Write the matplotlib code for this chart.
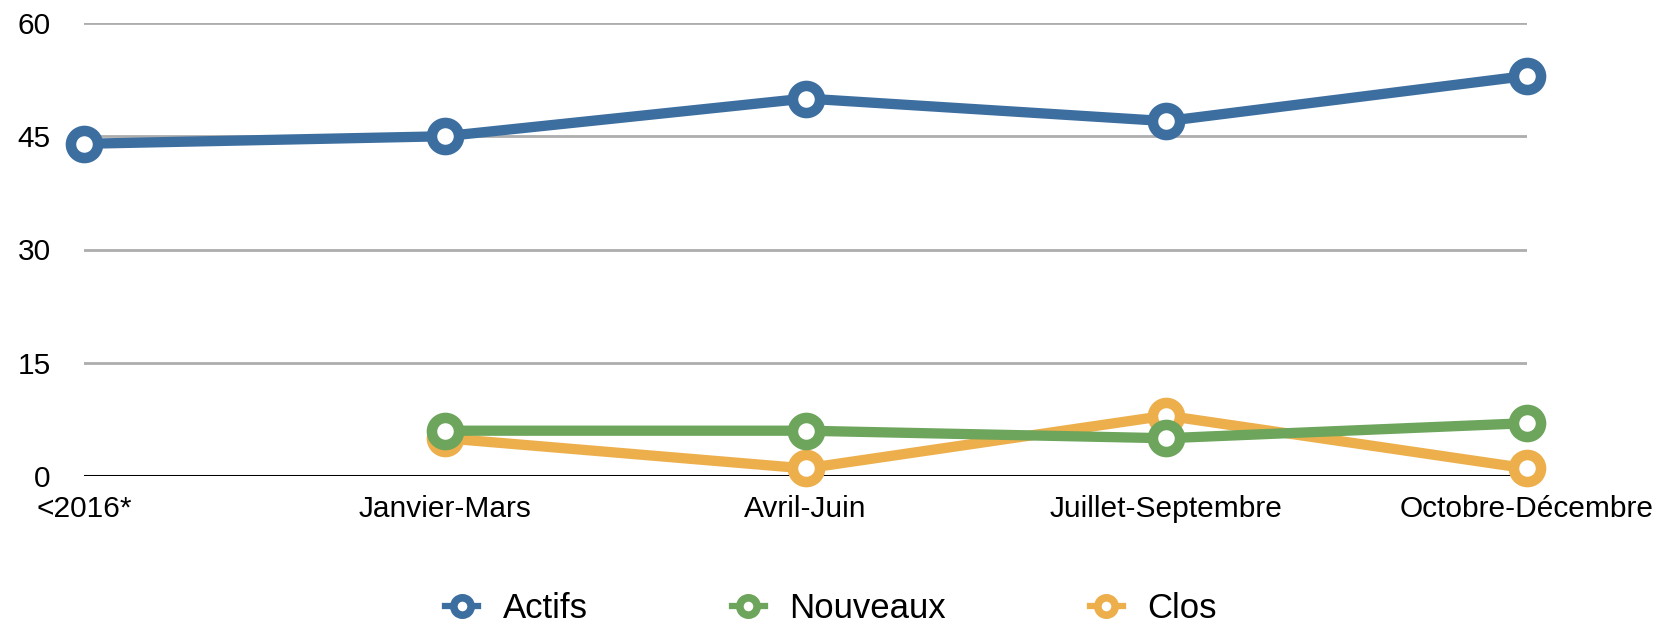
import matplotlib
matplotlib.use("Agg")
import matplotlib.pyplot as plt
from matplotlib.lines import Line2D
import numpy as np

plt.rcParams['font.family'] = ['Liberation Sans', 'DejaVu Sans']

categories = ["<2016*", "Janvier-Mars", "Avril-Juin", "Juillet-Septembre", "Octobre-Décembre"]
actifs = [44, 45, 50, 47, 53]
nouveaux = [np.nan, 6, 6, 5, 7]
clos = [np.nan, 5, 1, 8, 1]
yticks = [0, 15, 30, 45, 60]

c_blue = "#3D6EA0"
c_green = "#6CA55B"
c_orange = "#EDAF4C"

fig = plt.figure(figsize=(16.62, 6.24), dpi=100)
ax = fig.add_axes([84/1662, 1-476/624, (1527-84)/1662, (476-23)/624])

x = np.arange(len(categories))
ms = 19.5
mew = 7.6
lw = 7.4
for vals, col, z in [(actifs, c_blue, 5), (clos, c_orange, 3), (nouveaux, c_green, 4)]:
    ax.plot(x, vals, color=col, lw=lw, marker='o', ms=ms, mew=mew,
            markerfacecolor='white', markeredgecolor=col, zorder=z, clip_on=False,
            solid_joinstyle='round')

ax.set_xlim(0, len(categories)-1)
ax.set_ylim(0, 60)
ax.set_yticks(yticks)
ax.set_yticklabels([str(v) for v in yticks], fontsize=21.5)
ax.set_xticks(x)
ax.set_xticklabels(categories, fontsize=21.5)
ax.tick_params(axis='both', length=0)
ax.tick_params(axis='y', pad=24)
ax.tick_params(axis='x', pad=14)
for s in ax.spines.values():
    s.set_visible(False)
for v in yticks[1:]:
    ax.axhline(v, color='#ADADAD', lw=2, zorder=1)
ax.axhline(0, color='black', lw=2.2, zorder=2)

handles = [Line2D([0], [0], color=c, lw=4.5, marker='o', ms=12.5, mew=5.5,
                  markerfacecolor='white', markeredgecolor=c)
           for c in (c_blue, c_green, c_orange)]
fig.legend(handles, ["Actifs", "Nouveaux", "Clos"], loc='center',
           bbox_to_anchor=(0.5, 1-609/624), ncol=3, frameon=False,
           fontsize=25, handlelength=0.95, handletextpad=0.7, columnspacing=4.15)

fig.savefig("out.png", dpi=100)
